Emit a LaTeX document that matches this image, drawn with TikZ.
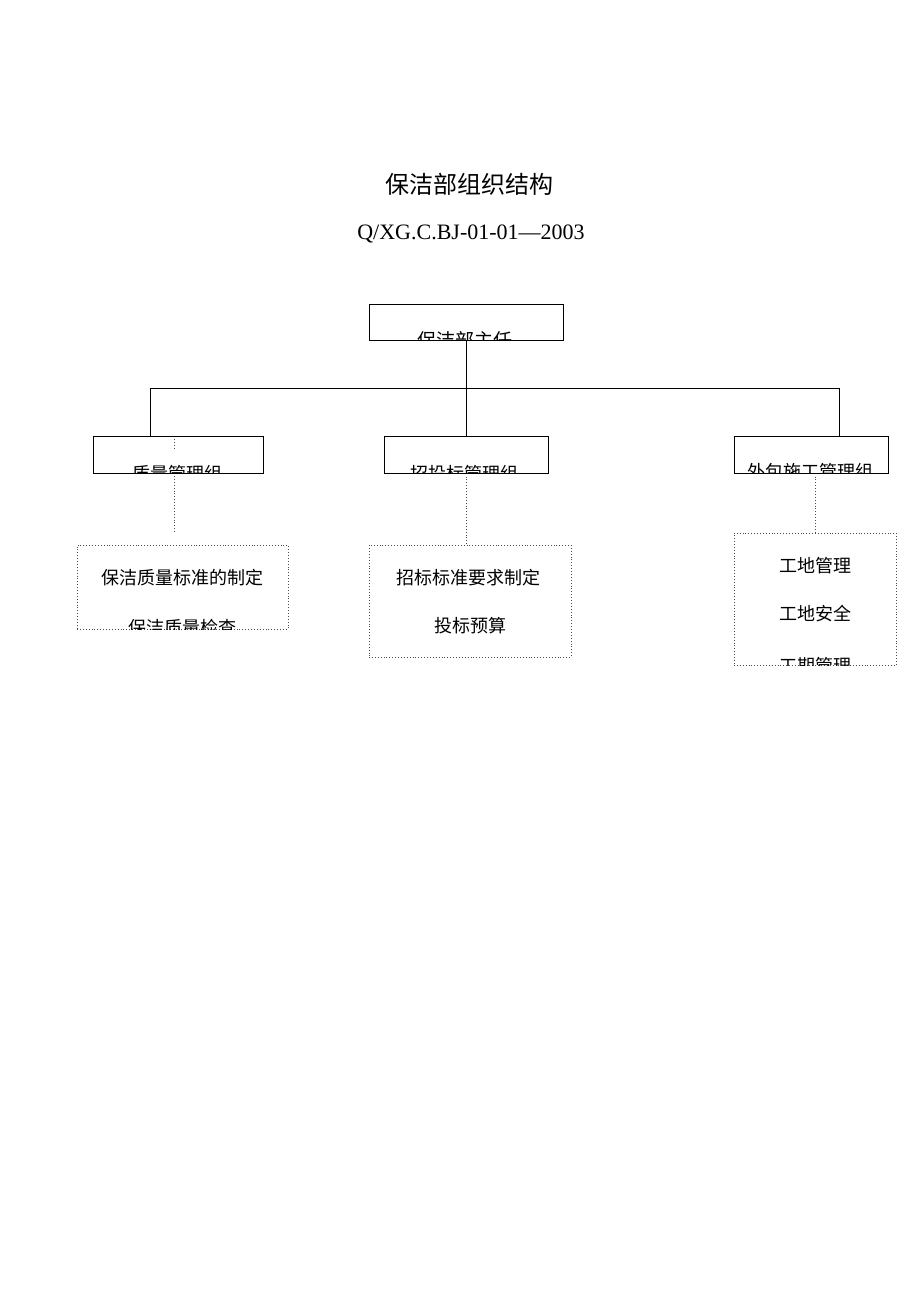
\documentclass[tikz,border=0pt]{standalone}
\usepackage{fontspec}
\setmainfont{Liberation Serif}
\newfontfamily\cjk{Noto Sans CJK SC}
\begin{document}
\begin{tikzpicture}[x=1pt,y=-1pt,
  box/.style={draw=black, line width=1pt, inner sep=0pt, fill=white},
  dbox/.style={draw=black!70, dotted, line width=0.9pt, inner sep=0pt},
  lbl/.style={font=\cjk\fontsize{18}{18}\selectfont, inner sep=0pt, anchor=base},
  link/.style={draw=black, line width=1pt},
  dlink/.style={draw=black!70, dotted, line width=0.9pt}]
\useasboundingbox[fill=white] (0,0) rectangle (920,1302);

% titles
\node[font=\cjk\fontsize{24}{24}\selectfont, inner sep=0pt, anchor=base] (title) at (469,193) {保洁部组织结构};
\node[font=\fontsize{22}{22}\selectfont, inner sep=0pt, anchor=base] (code) at (471,239) {Q/XG.C.BJ-01-01—2003};

% boxes
\node[box, minimum width=194pt, minimum height=36pt] (top) at (466,322) {};
\node[box, minimum width=170pt, minimum height=37pt] (b1) at (178,454.5) {};
\node[box, minimum width=164pt, minimum height=37pt] (b2) at (466,454.5) {};
\node[box, minimum width=154pt, minimum height=37pt] (b3) at (811,454.5) {};
\node[dbox, minimum width=211pt, minimum height=84pt] (d1) at (182.5,587) {};
\node[dbox, minimum width=202pt, minimum height=112pt] (d2) at (470,601) {};
\node[dbox, minimum width=162pt, minimum height=132pt] (d3) at (815,599) {};

% clipped texts
\begin{scope}
\clip (top.south west) rectangle (top.north east);
\node[lbl, font=\cjk\fontsize{19}{19}\selectfont] (ttop) at (465,347) {保洁部主任};
\end{scope}
\begin{scope}
\clip (b1.south west) rectangle (b1.north east);
\node[lbl] (tb1) at (177.5,480) {质量管理组};
\end{scope}
\begin{scope}
\clip (b2.south west) rectangle (b2.north east);
\node[lbl] (tb2) at (464,480) {招投标管理组};
\end{scope}
\begin{scope}
\clip (b3.south west) rectangle (b3.north east);
\node[lbl] (tb3) at (810,478) {外包施工管理组};
\end{scope}
\begin{scope}
\clip (d1.south west) rectangle (d1.north east);
\node[lbl] (td1a) at (182.5,584) {保洁质量标准的制定};
\node[lbl] (td1b) at (182,634) {保洁质量检查};
\end{scope}
\begin{scope}
\clip (d2.south west) rectangle (d2.north east);
\node[lbl] (td2a) at (468.5,584) {招标标准要求制定};
\node[lbl] (td2b) at (470,632) {投标预算};
\end{scope}
\begin{scope}
\clip (d3.south west) rectangle (d3.north east);
\node[lbl] (td3a) at (815,572) {工地管理};
\node[lbl] (td3b) at (815,620) {工地安全};
\node[lbl] (td3c) at (815,672) {工期管理};
\end{scope}

% connectors
\coordinate (busL) at (150,388);
\coordinate (busR) at (839,388);
\draw[link] (top.south) -- (top.south |- busL);
\draw[link] (busL) -- (busR);
\draw[link] (busL) -- (busL |- b1.north);
\draw[link] (top.south |- busL) -- (b2.north);
\draw[link] (busR) -- (busR |- b3.north);

\coordinate (k1a) at (174,439);
\coordinate (k1b) at (174,450);
\coordinate (k1c) at (174,476);
\coordinate (k1d) at (174,533);
\draw[dlink] (k1a) -- (k1b);
\draw[dlink] (k1c) -- (k1d);
\coordinate (k2) at ([yshift=-3pt]b2.south);
\draw[dlink] (k2) -- (k2 |- d2.north);
\draw[dlink] ([yshift=-3pt]b3.south -| d3.north) -- (d3.north);
\end{tikzpicture}
\end{document}
